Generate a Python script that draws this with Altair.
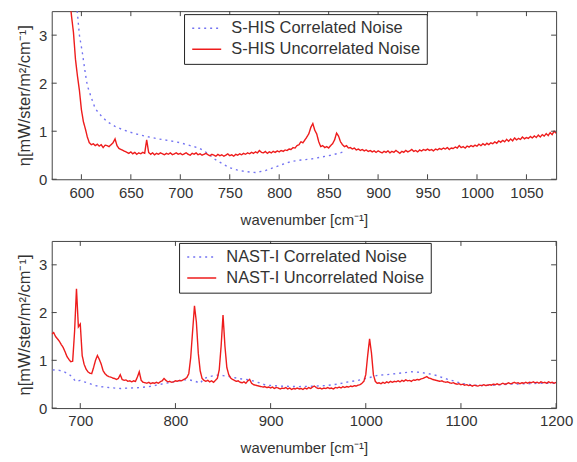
import altair as alt
import pandas as pd

# ---------------- data ----------------
SHIS_UNC_START = 586
SHIS_UNC_STEP = 2
shis_unc = [
    4.2, 3.8, 3.4, 3.05, 2.5, 2.15, 1.85, 1.45, 1.2, 1.05,
    0.88, 0.76, 0.72, 0.74, 0.70, 0.73, 0.69, 0.72, 0.66, 0.71,
    0.70, 0.68, 0.72, 0.76, 0.84, 0.70, 0.64, 0.62, 0.60, 0.58,
    0.56, 0.54, 0.57, 0.53, 0.56, 0.52, 0.55, 0.53, 0.56, 0.54,
    0.82, 0.56, 0.52, 0.55, 0.51, 0.54, 0.52, 0.55, 0.53, 0.51,
    0.54, 0.52, 0.55, 0.51, 0.53, 0.55, 0.52, 0.54, 0.51, 0.53,
    0.55, 0.52, 0.50, 0.54, 0.52, 0.55, 0.51, 0.53, 0.50, 0.52,
    0.54, 0.51, 0.49, 0.52, 0.50, 0.48, 0.52, 0.49, 0.51, 0.48,
    0.50, 0.53, 0.49, 0.51, 0.48, 0.52, 0.50, 0.53, 0.51, 0.54,
    0.52, 0.55, 0.53, 0.56, 0.54, 0.57, 0.55, 0.60, 0.56, 0.55,
    0.58, 0.54, 0.57, 0.55, 0.58, 0.56, 0.59, 0.57, 0.60, 0.58,
    0.61, 0.60, 0.63, 0.62, 0.66, 0.65, 0.70, 0.72, 0.78, 0.76,
    0.82, 0.88, 0.95, 1.08, 1.16, 1.02, 0.94, 0.78, 0.68, 0.70,
    0.66, 0.68, 0.65, 0.70, 0.74, 0.82, 0.96, 0.90, 0.78, 0.72,
    0.68, 0.70, 0.65, 0.66, 0.63, 0.65, 0.61, 0.63, 0.60, 0.62,
    0.59, 0.61, 0.58, 0.60, 0.57, 0.59, 0.56, 0.59, 0.57, 0.55,
    0.58, 0.56, 0.59, 0.55, 0.58, 0.56, 0.60, 0.57, 0.54, 0.58,
    0.56, 0.60, 0.57, 0.59, 0.62, 0.58, 0.60, 0.57, 0.61, 0.59,
    0.62, 0.60, 0.63, 0.60, 0.62, 0.59, 0.63, 0.61, 0.64, 0.62,
    0.65, 0.63, 0.66, 0.62, 0.65, 0.64, 0.67, 0.65, 0.70, 0.66,
    0.68, 0.65, 0.69, 0.67, 0.70, 0.68, 0.71, 0.69, 0.73, 0.70,
    0.74, 0.71, 0.75, 0.72, 0.76, 0.74, 0.78, 0.75, 0.80, 0.77,
    0.81, 0.78, 0.83, 0.79, 0.84, 0.80, 0.86, 0.82, 0.85, 0.83,
    0.88, 0.84, 0.87, 0.85, 0.89, 0.86, 0.90, 0.87, 0.92, 0.88,
    0.93, 0.90, 0.95, 0.91, 0.97, 0.93, 1.00, 0.96,
]
shis_cor_wn = [593, 596, 598, 601, 604, 606, 610, 614, 620, 626,
               634, 642, 654, 666, 678, 690, 700, 710, 719, 727,
               734, 742, 750, 758, 766, 776, 786, 794, 802, 812,
               822, 832, 842, 852, 862, 866]
shis_cor = [4.0, 3.45, 3.0, 2.63, 2.2, 1.95, 1.7, 1.47, 1.32, 1.2,
            1.1, 1.03, 0.95, 0.89, 0.84, 0.8, 0.76, 0.7, 0.65, 0.55,
            0.43, 0.33, 0.24, 0.19, 0.16, 0.14, 0.18, 0.24, 0.3, 0.37,
            0.4, 0.42, 0.46, 0.5, 0.55, 0.58]

NAST_UNC_START = 670
NAST_UNC_STEP = 2
nast_unc = [
    1.55, 1.58, 1.50, 1.45, 1.40, 1.33, 1.27, 1.18, 1.08, 1.02,
    0.97, 0.98, 1.60, 2.50, 1.70, 1.76, 1.10, 0.92, 0.82, 0.76,
    0.73, 0.72, 0.85, 1.00, 1.10, 1.02, 0.92, 0.78, 0.72, 0.68,
    0.66, 0.65, 0.63, 0.62, 0.60, 0.62, 0.70, 0.60, 0.58, 0.59,
    0.56, 0.57, 0.55, 0.57, 0.56, 0.65, 0.76, 0.58, 0.54, 0.53,
    0.52, 0.54, 0.51, 0.53, 0.52, 0.54, 0.52, 0.55, 0.57, 0.62,
    0.58, 0.55, 0.56, 0.54, 0.55, 0.57, 0.56, 0.58, 0.57, 0.59,
    0.61, 0.64, 0.72, 1.05, 1.60, 2.14, 1.80, 1.15, 0.78, 0.62,
    0.58, 0.56, 0.58, 0.55, 0.57, 0.54, 0.58, 0.62, 0.80, 1.30,
    1.95, 1.30, 0.85, 0.70, 0.63, 0.60, 0.58, 0.56, 0.57, 0.54,
    0.53, 0.55, 0.52, 0.57, 0.60, 0.52, 0.49, 0.48, 0.47, 0.46,
    0.45, 0.44, 0.45, 0.43, 0.44, 0.42, 0.44, 0.41, 0.43, 0.42,
    0.40, 0.42, 0.41, 0.43, 0.40, 0.42, 0.39, 0.41, 0.40, 0.42,
    0.40, 0.41, 0.39, 0.42, 0.40, 0.43, 0.41, 0.44, 0.46, 0.43,
    0.41, 0.42, 0.40, 0.42, 0.41, 0.43, 0.41, 0.42, 0.40, 0.43,
    0.42, 0.44, 0.42, 0.45, 0.43, 0.45, 0.44, 0.46, 0.45, 0.47,
    0.46, 0.48, 0.49, 0.52, 0.56, 0.70, 1.10, 1.45, 1.15, 0.70,
    0.56, 0.52, 0.53, 0.51, 0.54, 0.52, 0.55, 0.53, 0.56, 0.54,
    0.56, 0.55, 0.57, 0.55, 0.58, 0.56, 0.59, 0.57, 0.58, 0.56,
    0.59, 0.58, 0.60, 0.59, 0.61, 0.62, 0.64, 0.66, 0.63, 0.62,
    0.60, 0.59, 0.58, 0.57, 0.56, 0.57, 0.55, 0.54, 0.55, 0.53,
    0.52, 0.53, 0.51, 0.50, 0.51, 0.49, 0.50, 0.48, 0.49, 0.47,
    0.48, 0.46, 0.48, 0.47, 0.46, 0.48, 0.47, 0.49, 0.47, 0.48,
    0.49, 0.48, 0.50, 0.49, 0.51, 0.49, 0.50, 0.52, 0.50, 0.51,
    0.53, 0.51, 0.52, 0.54, 0.52, 0.53, 0.51, 0.53, 0.52, 0.54,
    0.52, 0.54, 0.53, 0.55, 0.53, 0.54, 0.52, 0.55, 0.53, 0.54,
    0.52, 0.55, 0.53, 0.54, 0.52, 0.54,
]
nast_cor_wn = [671, 678, 683, 688, 692, 695, 700, 704, 709, 714,
               721, 730, 742, 752, 763, 772, 780, 790, 800, 808,
               815, 821, 826, 830, 836, 843, 850, 857, 866, 878,
               888, 895, 910, 930, 945, 958, 970, 982, 992, 1000,
               1008, 1013, 1022, 1031, 1040, 1048, 1057, 1066, 1075, 1083,
               1092, 1100, 1110, 1118, 1135, 1150, 1170, 1185, 1200]
nast_cor = [0.80, 0.79, 0.76, 0.71, 0.64, 0.56, 0.58, 0.55, 0.52, 0.48,
            0.45, 0.43, 0.41, 0.42, 0.43, 0.45, 0.48, 0.52, 0.56, 0.59,
            0.59, 0.56, 0.52, 0.62, 0.66, 0.69, 0.68, 0.66, 0.62, 0.59,
            0.53, 0.48, 0.46, 0.45, 0.46, 0.47, 0.50, 0.55, 0.58, 0.62,
            0.66, 0.69, 0.70, 0.72, 0.74, 0.76, 0.75, 0.72, 0.68, 0.62,
            0.57, 0.52, 0.49, 0.47, 0.48, 0.50, 0.51, 0.52, 0.52]

shis_names = ["S-HIS Correlated Noise", "S-HIS Uncorrelated Noise"]
nast_names = ["NAST-I Correlated Noise", "NAST-I Uncorrelated Noise"]
shis_xdomain = [570, 1080]
nast_xdomain = [670, 1200]
shis_xticks = [600, 650, 700, 750, 800, 850, 900, 950, 1000, 1050]
nast_xticks = [700, 800, 900, 1000, 1100, 1200]
yticks = [0, 1, 2, 3]
ydomain = [0, 3.5]

# ---------------- style ----------------
FONT = "Liberation Sans"
TXT = "#333333"
FRAME = "#444444"
BLUE = "#7373f2"
RED = "#ee1c1c"
W = 507
TICK = 5
XTITLE = "wavenumber [cm⁻¹]"
YTITLE = "η[mW/ster/m²/cm⁻¹]"


def make_df(names, unc_start, unc_step, unc, cor_wn, cor):
    rows = []
    for w, v in zip(cor_wn, cor):
        rows.append({"wn": w, "val": v, "series": names[0]})
    for i, v in enumerate(unc):
        rows.append({"wn": unc_start + unc_step * i, "val": v, "series": names[1]})
    return pd.DataFrame(rows)


def panel(df, names, xdom, xticks, h, lx, ly):
    xs = alt.Scale(domain=xdom, nice=False, zero=False)
    ys = alt.Scale(domain=ydomain, nice=False, zero=False)
    xaxis = alt.Axis(values=xticks, title=XTITLE, labelFlush=False, format="d")
    yaxis = alt.Axis(values=yticks, title=YTITLE, format="d")
    leg = alt.Legend(
        title=None, orient="none", legendX=lx, legendY=ly, direction="vertical",
        padding=6, strokeColor="#222222", fillColor="white", cornerRadius=0,
        labelFont=FONT, labelFontSize=16.5, labelColor=TXT, labelLimit=400,
        symbolType="M-0.86,0H3.3", symbolSize=196, symbolStrokeWidth=1.5,
        rowPadding=4, labelOffset=25,
    )
    X = alt.X("wn:Q", scale=xs, axis=xaxis)
    Y = alt.Y("val:Q", scale=ys, axis=yaxis)
    lines = alt.Chart(df).mark_line(clip=True, strokeWidth=1.4).encode(
        x=X, y=Y,
        color=alt.Color("series:N", scale=alt.Scale(domain=names, range=[BLUE, RED]),
                        legend=leg),
        strokeDash=alt.StrokeDash("series:N",
                                  scale=alt.Scale(domain=names, range=[[2, 4], [1, 0]]),
                                  legend=leg),
    )
    xt = pd.DataFrame({"wn": xticks})
    yt = pd.DataFrame({"val": yticks})
    bottom_ticks = alt.Chart(xt).mark_rule(color=FRAME, strokeWidth=1).encode(
        x=X, y=alt.value(h), y2=alt.value(h - TICK))
    top_ticks = alt.Chart(xt).mark_rule(color=FRAME, strokeWidth=1).encode(
        x=X, y=alt.value(0), y2=alt.value(TICK))
    left_ticks = alt.Chart(yt).mark_rule(color=FRAME, strokeWidth=1).encode(
        y=Y, x=alt.value(0), x2=alt.value(TICK))
    right_ticks = alt.Chart(yt).mark_rule(color=FRAME, strokeWidth=1).encode(
        y=Y, x=alt.value(W), x2=alt.value(W - TICK))
    return alt.layer(lines, bottom_ticks, top_ticks, left_ticks, right_ticks).properties(
        width=W, height=h)


shis_df = make_df(shis_names, SHIS_UNC_START, SHIS_UNC_STEP, shis_unc, shis_cor_wn, shis_cor)
nast_df = make_df(nast_names, NAST_UNC_START, NAST_UNC_STEP, nast_unc, nast_cor_wn, nast_cor)

top = panel(shis_df, shis_names, shis_xdomain, shis_xticks, 169, 133, 3)
bot = panel(nast_df, nast_names, nast_xdomain, nast_xticks, 168, 128, 2)

chart = (
    alt.vconcat(top, bot, spacing=12)
    .resolve_scale(x="independent", y="independent", color="independent",
                   strokeDash="independent")
    .properties(padding={"left": 16, "top": 9, "right": 3, "bottom": 2},
                background="white")
    .configure_view(stroke=FRAME, strokeWidth=1)
    .configure_axis(
        labelFont=FONT, labelFontSize=15, labelColor=TXT,
        titleFont=FONT, titleFontSize=15, titleFontWeight="normal", titleColor=TXT,
        ticks=False, domain=False, grid=False, labelPadding=6, titlePadding=12,
    )
    .configure_axisY(labelPadding=5, titlePadding=6, titleFontSize=16.5)
)

chart.save("out.html", embed_options={"renderer": "svg", "actions": False})
